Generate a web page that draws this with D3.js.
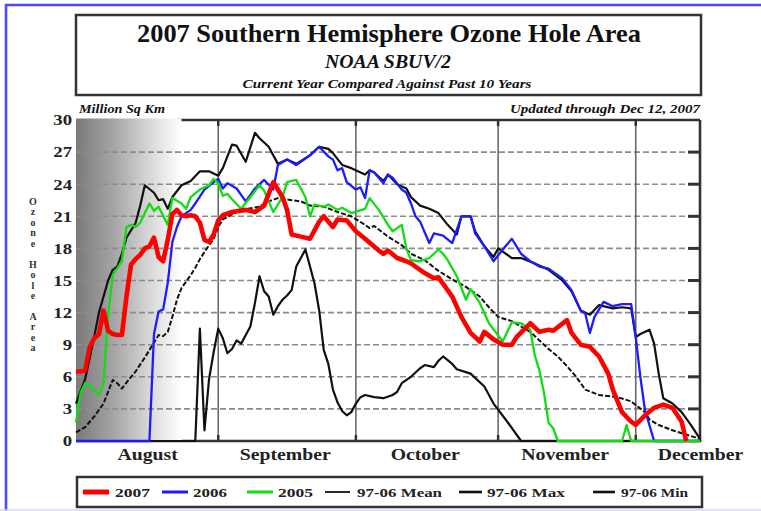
<!DOCTYPE html>
<html><head><meta charset="utf-8">
<script src="https://cdn.jsdelivr.net/npm/d3@7"></script>
<style>body{margin:0;background:#fff}svg{display:block}
svg text{font-family:"Liberation Serif","Times New Roman",Times,"DejaVu Serif",serif;}</style>
</head><body>
<svg id="c" width="761" height="511"></svg>
<script>
// ---------- DATA (days since Aug 1, 2007; area in million sq km) ----------
const yTicks = [0,3,6,9,12,15,18,21,24,27,30];
const monthNames = ["August","September","October","November","December"];
const monthLabelDay = [15.5,45.5,76,106.5,136];
const monthStartDay = [31,61,92,122];

const day2007 = [0,1,2,3,4,5,6,7,8,9,10,11,12,13,14,15,16,17,18,19,20,21,22,23,24,25,26,27,28,29,30,31,32,34,37,39,41,43,45,46,47,49,51,53,54,56,57,59,61,63,66,67,68,70,72,73,76,78,79,82,84,86,88,89,91,93,95,96,99,101,103,104,107,108,110,112,114,116,117,119,121,122,124,126,128,130,132,133];
const area2007 = [6.5,6.5,6.6,8.8,9.6,10.0,12.2,10.3,10.0,9.9,9.9,13.5,16.5,17.0,17.4,18.0,18.2,19.0,17.2,16.8,18.8,21.2,21.6,21.1,21.0,21.1,21.0,20.4,18.8,18.6,19.3,20.6,21.1,21.4,21.6,21.4,22.0,24.2,22.8,21.6,19.3,19.1,18.9,20.5,21.0,20.0,20.7,20.6,19.6,18.9,17.8,17.5,17.8,17.1,16.8,16.6,15.7,15.2,15.3,13.5,11.6,10.1,9.3,10.2,9.5,9.0,9.0,9.7,11.0,10.2,10.4,10.3,11.3,10.1,9.0,8.8,7.9,6.3,4.8,2.7,1.8,1.5,2.4,3.1,3.4,3.1,1.8,0];

const day2006 = [0,16,17,18,19,20,21,22,23,25,26,28,30,31,32,33,35,37,39,41,43,44,46,48,51,53,55,56,57,58,59,61,62,63,64,65,67,68,69,71,72,73,74,75,77,78,80,82,84,86,87,89,91,93,95,97,99,101,103,106,108,110,111,112,113,115,117,119,121,122,123,124,126,136];
const area2006 = [0,0,10,12.1,12.3,14.8,18.6,20,21,21.6,22.2,23.5,24.2,24.5,23.6,24.1,23.6,22.4,23.6,24.4,23.5,25.8,26.3,25.8,26.7,27.5,26.6,26.3,25.3,25.5,24.2,23.5,23.7,22.7,25.3,25.1,24.1,24.9,24.6,23.5,23.2,22.2,21.0,20.5,18.5,19.4,19.2,18.5,21,21,19.4,18.2,16.8,17.9,18.9,17.5,16.8,16.3,16.1,15.2,14.1,12.2,11.9,10.1,11.6,13,12.6,12.8,12.8,9.7,6,2.9,0,0];

const day2005 = [0,1,2,3,5,6,7,8,10,11,12,13,14,16,17,18,20,21,23,24,25,27,29,30,31,32,33,34,36,38,40,41,43,45,46,48,50,51,52,54,55,57,58,60,63,64,66,68,69,71,72,73,75,77,79,80,81,83,85,86,88,90,93,94,95,97,99,100,101,102,103,104,105,119,120,121,136];
const area2005 = [1.7,4.5,5.4,5.2,4.3,5.4,11.8,15.5,16.8,20.0,20.2,20.0,20.4,22.2,21.5,21.9,20.2,22.7,22.2,21.7,22.8,23.5,23.9,24.5,24.1,22.9,23.1,22.6,21.7,22.8,23.9,23.4,21.4,22.8,24.2,24.4,22.8,21.0,22.1,21.9,22.1,21.6,21.8,21.3,21.7,22.7,21.6,20.2,19.6,20.2,18.0,16.9,16.8,17.1,17.9,17.5,16.9,15.4,13.2,14.2,12.9,11.0,9.3,10.2,11.1,11.0,10.4,8.0,6.6,4.5,1.7,1.2,0,0,1.5,0,0];

const dayMean = [0,2,4,6,7,8,9,10,12,13,15,16,18,19,20,21,22,23,25,26,27,29,30,31,32,34,36,40,42,44,47,49,51,54,57,60,63,64,65,68,71,73,76,79,82,85,88,90,92,95,97,99,101,103,105,107,109,111,114,118,121,124,125,127,130,133,136];
const areaMean = [0.8,1.3,2.3,3.5,4.6,5.7,5.4,4.9,6.0,6.5,7.8,8.5,9.9,9.8,10.2,11.6,13.2,14.3,15.5,16.2,17.0,18.3,18.9,20.0,20.7,21.2,21.6,21.9,22.4,22.7,22.5,22.4,22.0,21.9,21.4,21.0,20.2,19.9,20.1,19.1,18.3,17.5,16.9,15.9,15.1,14.4,13.5,12.5,11.6,11.2,10.7,10.2,9.4,8.6,7.9,7.0,6.0,4.8,4.3,4.1,3.7,2.7,2.0,1.5,1.0,0.6,0.2];

const dayMax = [0,2,4,5,7,8,9,10,11,13,14,15,17,18,19,20,21,23,25,27,29,31,32,34,35,37,39,40,42,44,46,48,51,53,55,56,58,60,63,64,65,67,68,70,72,73,75,77,79,81,83,84,86,87,89,91,92,95,97,100,103,106,108,110,112,114,117,119,121,122,123,125,126,127,128,130,132,134,136];
const areaMax = [3.5,5.8,9.8,12,15,16,16.3,17.5,19.0,20.4,22.0,23.9,23.2,22.5,22.6,21.7,22.8,23.9,24.3,25.2,25.2,24.8,25.5,27.7,27.6,26.1,28.8,28.3,27.5,25.9,26.3,25.9,26.7,27.5,27.3,26.9,25.8,25.5,24.9,25.3,25.1,24.3,24.9,24.0,23.6,22.8,22.0,21.7,21.3,20.2,19.3,21,21,19.6,18.2,17.2,18.0,17.1,17.1,16.6,16.0,15.0,14.0,12.2,11.8,12.7,12.4,12.5,12.4,9.7,10.0,10.4,9.1,6.3,4.0,3.5,2.7,1.5,0.2];

const dayMin = [0,26,27,28,29,30,31,32,33,34,35,36,37,38,39,40,41,42,43,44,45,46,47,48,50,51,52,53,54,55,56,57,58,59,60,61,62,63,65,67,69,70,71,73,75,76,78,79,80,82,83,86,89,91,94,97,136];
const areaMin = [0,0,10.5,1.0,5.8,8.3,10.5,9.6,8.2,8.6,9.4,9.1,9.9,10.7,12.9,15.4,14.0,13.5,11.8,12.6,13.2,13.6,14.1,16.3,17.9,16.3,14.7,12.2,8.5,7.2,4.8,3.6,2.8,2.4,2.7,3.5,4.1,4.3,4.1,4.0,4.3,4.6,5.4,6.0,6.8,7.1,6.9,7.5,7.9,7.2,6.7,6.3,5.1,3.5,1.8,0,0];

const seriesNames = ["2007","2006","2005","97-06 Mean","97-06 Max","97-06 Min"];

// ---------- DRAWING ----------
const svg = d3.select("#c");
const x = d3.scaleLinear().domain([0,136]).range([76,700]);
const y = d3.scaleLinear().domain([0,30]).range([441,120]);
function fit(sel,w){ sel.attr("textLength",w).attr("lengthAdjust","spacingAndGlyphs"); }
function stretch(sel,f){ sel.each(function(){ const w=this.getComputedTextLength(); d3.select(this).attr("textLength",w*f).attr("lengthAdjust","spacingAndGlyphs"); }); }

svg.append("rect").attr("width",761).attr("height",511).attr("fill","#fff");
// blue outer frame
svg.append("path").attr("d","M6,511V5H761").attr("fill","none").attr("stroke","#4c4cff").attr("stroke-width",2.6);
svg.append("line").attr("x1",0).attr("x2",761).attr("y1",510).attr("y2",510).attr("stroke","#d3d9f0").attr("stroke-width",1.5);

// title box
svg.append("rect").attr("x",76).attr("y",15).attr("width",625).attr("height",80)
  .attr("fill","#fff").attr("stroke","#333").attr("stroke-width",2.5);
const tt = svg.append("g").attr("fill","#111").attr("font-weight","bold");
fit(tt.append("text").attr("x",389).attr("y",42).attr("text-anchor","middle").attr("font-size",25)
  .text("2007 Southern Hemisphere Ozone Hole Area"),504);
fit(tt.append("text").attr("x",388).attr("y",68).attr("text-anchor","middle").attr("font-size",18).attr("font-style","italic")
  .text("NOAA SBUV/2"),126);
fit(tt.append("text").attr("x",387).attr("y",88).attr("text-anchor","middle").attr("font-size",12.5).attr("font-style","italic")
  .text("Current Year Compared Against Past 10 Years"),289);
fit(tt.append("text").attr("x",79).attr("y",113).attr("font-size",12).attr("font-style","italic").text("Million Sq Km"),86);
fit(tt.append("text").attr("x",700).attr("y",113).attr("text-anchor","end").attr("font-size",12).attr("font-style","italic")
  .text("Updated through Dec 12, 2007"),190);

// gradient shading at left
const defs = svg.append("defs");
const lg = defs.append("linearGradient").attr("id","shade").attr("x1","0").attr("x2","1").attr("y1","0").attr("y2","0");
[[0,"#7a7a7a"],[0.35,"#a4a4a4"],[0.7,"#d8d8d8"],[1,"#ffffff"]].forEach(s=>lg.append("stop").attr("offset",s[0]).attr("stop-color",s[1]));

// plot frame (top border only outside shaded region)
const frame = svg.append("g").attr("stroke","#333").attr("stroke-width",2.6).attr("fill","none");
svg.append("rect").attr("x",x(0)).attr("y",118.5).attr("width",x(23)-x(0)).attr("height",y(0)-118.5).attr("fill","url(#shade)");
frame.append("line").attr("x1",x(22)).attr("x2",x(136)).attr("y1",y(30)).attr("y2",y(30));
frame.append("line").attr("x1",x(136)).attr("x2",x(136)).attr("y1",y(30)).attr("y2",y(0));
frame.append("line").attr("x1",x(0)).attr("x2",x(136)+1.3).attr("y1",y(0)).attr("y2",y(0));

// gridlines
svg.append("g").selectAll("line").data(yTicks.filter(v=>v>0&&v<30)).join("line")
  .attr("x1",x(0)).attr("x2",x(136)).attr("y1",d=>y(d)).attr("y2",d=>y(d))
  .attr("stroke","#8c8c8c").attr("stroke-width",1.6).attr("stroke-dasharray","6,3");
svg.append("g").selectAll("line").data(monthStartDay).join("line")
  .attr("x1",d=>x(d)).attr("x2",d=>x(d)).attr("y1",y(30)).attr("y2",y(0))
  .attr("stroke","#6a6a6a").attr("stroke-width",1.6);
// ticks
svg.append("g").selectAll("line").data(yTicks.filter(v=>v>0&&v<30)).join("line")
  .attr("x1",x(136)-12).attr("x2",x(136)).attr("y1",d=>y(d)).attr("y2",d=>y(d))
  .attr("stroke","#333").attr("stroke-width",3);
svg.append("g").selectAll("line").data(monthStartDay).join("line")
  .attr("x1",d=>x(d)).attr("x2",d=>x(d)).attr("y1",y(30)).attr("y2",y(30)+6)
  .attr("stroke","#333").attr("stroke-width",2.5);
svg.append("g").selectAll("line").data(monthStartDay).join("line")
  .attr("x1",d=>x(d)).attr("x2",d=>x(d)).attr("y1",y(0)-6).attr("y2",y(0))
  .attr("stroke","#333").attr("stroke-width",2.5);

// axes labels
const ya = svg.append("g").attr("transform","translate(76,0)")
  .call(d3.axisLeft(y).tickValues(yTicks).tickSize(0).tickPadding(4));
ya.select(".domain").remove();
ya.attr("font-family",null);
ya.selectAll("text").attr("font-weight","bold").attr("font-size",15).attr("fill","#222");
stretch(ya.selectAll("text"),1.25);
const xa = svg.append("g").attr("transform",`translate(0,${y(0)})`)
  .call(d3.axisBottom(x).tickValues(monthLabelDay).tickFormat((d,i)=>monthNames[i]).tickSize(0).tickPadding(7));
xa.select(".domain").remove();
xa.attr("font-family",null);
xa.selectAll("text").attr("font-weight","bold").attr("font-size",17).attr("fill","#222");
stretch(xa.selectAll("text"),1.16);

// vertical y title: stacked letters
svg.append("g").selectAll("text").data("Ozone Hole Area".split("")).join("text")
  .attr("x",33).attr("y",(d,i)=>205+i*10.45).attr("text-anchor","middle")
  .attr("font-weight","bold").attr("font-size",10).attr("fill","#333").text(d=>d);

// series
const mk = (days,vals)=>days.map((d,i)=>[d,vals[i]]);
const line = d3.line().x(d=>x(d[0])).y(d=>y(d[1]));
const series = [
  {data:mk(dayMin,areaMin), color:"#111", w:2.2},
  {data:mk(dayMax,areaMax), color:"#111", w:2.2},
  {data:mk(dayMean,areaMean), color:"#111", w:2, dash:"5,2"},
  {data:mk(day2006,area2006), color:"#1c1cff", w:2.3},
  {data:mk(day2005,area2005), color:"#12dc12", w:2.3},
  {data:mk(day2007,area2007), color:"#ff0000", w:4.6}
];
svg.append("g").selectAll("path").data(series).join("path")
  .attr("d",d=>line(d.data)).attr("fill","none").attr("stroke",d=>d.color)
  .attr("stroke-width",d=>d.w).attr("stroke-dasharray",d=>d.dash||null)
  .attr("stroke-linejoin","round");

// legend
svg.append("rect").attr("x",77).attr("y",477).attr("width",625).attr("height",30)
  .attr("fill","#fff").attr("stroke","#333").attr("stroke-width",2.5);
const legendLayout = [
  {name:seriesNames[0], color:"#ff0000", w:5, x1:83, x2:109, tx:115, tl:35},
  {name:seriesNames[1], color:"#1c1cff", w:3, x1:162, x2:188, tx:193, tl:34},
  {name:seriesNames[2], color:"#12dc12", w:3, x1:247, x2:273, tx:278, tl:35},
  {name:seriesNames[3], color:"#111", w:1.8, x1:325, x2:350, tx:357, tl:85},
  {name:seriesNames[4], color:"#111", w:2.6, x1:459, x2:482, tx:487, tl:78},
  {name:seriesNames[5], color:"#111", w:2.6, x1:593, x2:615, tx:621, tl:67}
];
const lgG = svg.append("g");
legendLayout.forEach(l=>{
  lgG.append("line").attr("x1",l.x1).attr("x2",l.x2).attr("y1",492).attr("y2",492)
    .attr("stroke",l.color).attr("stroke-width",l.w);
  fit(lgG.append("text").attr("x",l.tx).attr("y",497).attr("font-weight","bold")
    .attr("font-size",13).attr("fill","#222").text(l.name), l.tl);
});
</script>
</body></html>
